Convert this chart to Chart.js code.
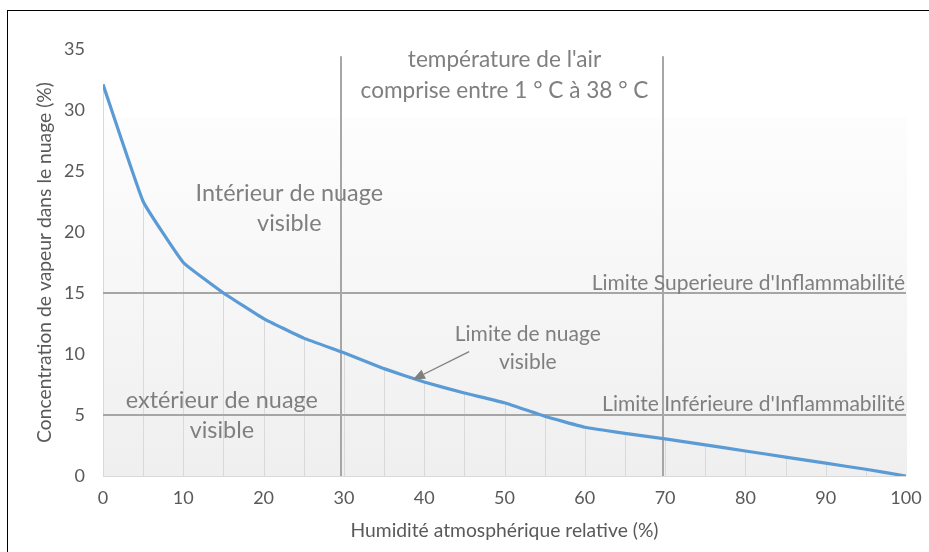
<!DOCTYPE html>
<html>
<head>
<meta charset="utf-8">
<script src="https://cdn.jsdelivr.net/npm/chart.js@4/dist/chart.umd.min.js"></script>
<style>
  html, body { margin: 0; padding: 0; background: #fff; }
  #wrap { position: relative; width: 929px; height: 552px; overflow: hidden; }
  #frame { position: absolute; left: 7px; top: 10px; width: 940px; height: 560px; border-top: 1px solid #000; border-left: 1px solid #000; pointer-events: none; }
  canvas { position: absolute; left: 0; top: 0; }
</style>
</head>
<body>
<div id="wrap">
  <canvas id="c" width="929" height="552"></canvas>
  <div id="frame"></div>
</div>
<script>
// Data
const humidity = [0, 5, 10, 15, 20, 25, 30, 35, 40, 45, 50, 55, 60, 65, 70, 75, 80, 85, 90, 95, 100];
const concentration = [32.1, 22.5, 17.5, 15.0, 12.9, 11.3, 10.1, 8.8, 7.7, 6.8, 6.0, 4.9, 4.0, 3.5, 3.05, 2.55, 2.05, 1.55, 1.05, 0.55, 0];
const xTicks = [0, 10, 20, 30, 40, 50, 60, 70, 80, 90, 100];
const yTicks = [0, 5, 10, 15, 20, 25, 30, 35];
const flammabilityLimits = [15, 5];          // horizontal reference lines
const temperatureBounds = [29.6, 69.8];       // vertical reference lines
const temperatureTop = 34.4;
const labels = [
  { lines: ["température de l'air", "comprise entre 1 ° C à 38 ° C"], x: 50, y: [34.1, 31.6], size: 22.6, align: 'center' },
  { lines: ["Intérieur de nuage", "visible"], x: 23.2, y: [23.2, 20.7], size: 23.4, align: 'center' },
  { lines: ["extérieur de nuage", "visible"], x: 14.8, y: [6.2, 3.75], size: 23.4, align: 'center' },
  { lines: ["Limite de nuage", "visible"], x: 52.9, y: [11.6, 9.3], size: 21, align: 'center' },
  { lines: ["Limite Superieure d'Inflammabilité"], x: 99.9, y: [15.8], size: 21, align: 'right' },
  { lines: ["Limite Inférieure d'Inflammabilité"], x: 99.9, y: [5.9], size: 21, align: 'right' }
];
const arrow = { from: [45.6, 10.2], to: [38.6, 7.9] };

const FONT = 'Lato, "Open Sans", sans-serif';

const decor = {
  id: 'decor',
  beforeDatasetsDraw(chart) {
    const { ctx, chartArea: a, scales: { x, y } } = chart;
    ctx.save();
    const top = 117;
    const g = ctx.createLinearGradient(0, top, 0, a.bottom);
    g.addColorStop(0, '#fdfdfd');
    g.addColorStop(1, '#efefef');
    ctx.fillStyle = g;
    ctx.fillRect(a.left, top, a.right - a.left + 1, a.bottom - top);
    ctx.strokeStyle = '#d9d9d9';
    ctx.lineWidth = 1;
    humidity.forEach((h, i) => {
      const px = Math.round(x.getPixelForValue(h)) + 0.5;
      ctx.beginPath();
      ctx.moveTo(px, y.getPixelForValue(concentration[i]));
      ctx.lineTo(px, y.getPixelForValue(0));
      ctx.stroke();
    });
    ctx.beginPath();
    ctx.moveTo(a.left, Math.round(y.getPixelForValue(0)) + 0.5);
    ctx.lineTo(a.right, Math.round(y.getPixelForValue(0)) + 0.5);
    ctx.stroke();
    ctx.strokeStyle = '#a6a6a6';
    ctx.lineWidth = 2;
    flammabilityLimits.forEach(v => {
      const py = Math.round(y.getPixelForValue(v));
      ctx.beginPath();
      ctx.moveTo(x.getPixelForValue(0), py);
      ctx.lineTo(x.getPixelForValue(100), py);
      ctx.stroke();
    });
    temperatureBounds.forEach(v => {
      const px = Math.round(x.getPixelForValue(v));
      ctx.beginPath();
      ctx.moveTo(px, y.getPixelForValue(temperatureTop));
      ctx.lineTo(px, y.getPixelForValue(0));
      ctx.stroke();
    });
    ctx.restore();
  },
  afterDatasetsDraw(chart) {
    const { ctx, scales: { x, y } } = chart;
    ctx.save();
    ctx.fillStyle = '#7f7f7f';
    ctx.textBaseline = 'middle';
    labels.forEach(l => {
      ctx.font = l.size + 'px ' + FONT;
      ctx.textAlign = l.align;
      l.lines.forEach((t, i) => ctx.fillText(t, x.getPixelForValue(l.x), y.getPixelForValue(l.y[i])));
    });
    const x1 = x.getPixelForValue(arrow.from[0]), y1 = y.getPixelForValue(arrow.from[1]);
    const x2 = x.getPixelForValue(arrow.to[0]), y2 = y.getPixelForValue(arrow.to[1]);
    ctx.strokeStyle = '#7f7f7f';
    ctx.fillStyle = '#7f7f7f';
    ctx.lineWidth = 1.3;
    const ang = Math.atan2(y2 - y1, x2 - x1);
    const hl = 12, hw = 5;
    const bx = x2 - hl * Math.cos(ang), by = y2 - hl * Math.sin(ang);
    ctx.beginPath();
    ctx.moveTo(x1, y1);
    ctx.lineTo(bx, by);
    ctx.stroke();
    ctx.beginPath();
    ctx.moveTo(x2, y2);
    ctx.lineTo(bx + hw * Math.sin(ang), by - hw * Math.cos(ang));
    ctx.lineTo(bx - hw * Math.sin(ang), by + hw * Math.cos(ang));
    ctx.closePath();
    ctx.fill();
    ctx.restore();
  }
};

new Chart(document.getElementById('c'), {
  type: 'line',
  data: {
    datasets: [{
      data: humidity.map((h, i) => ({ x: h, y: concentration[i] })),
      borderColor: '#5b9bd5',
      borderWidth: 3.2,
      pointRadius: 0,
      tension: 0.1,
      fill: false
    }]
  },
  options: {
    responsive: false,
    animation: false,
    devicePixelRatio: 1,
    layout: { padding: { left: 0, top: 49, right: 23, bottom: 0 } },
    plugins: { legend: { display: false }, tooltip: { enabled: false } },
    scales: {
      x: {
        type: 'linear', min: 0, max: 100,
        afterBuildTicks(s) { s.ticks = xTicks.map(v => ({ value: v })); },
        afterFit(s) { s.height = 76; s.paddingRight = 0; },
        grid: { display: false, drawTicks: false },
        border: { display: false },
        ticks: { color: '#595959', font: { family: FONT, size: 18 }, padding: 11, maxRotation: 0 },
        title: { display: true, text: 'Humidité atmosphérique relative (%)', color: '#595959', font: { family: FONT, size: 19.3 }, padding: { top: 0, bottom: 10 } }
      },
      y: {
        type: 'linear', min: 0, max: 35,
        afterBuildTicks(s) { s.ticks = yTicks.map(v => ({ value: v })); },
        afterFit(s) { s.width = 103; },
        grid: { display: false, drawTicks: false },
        border: { display: false },
        ticks: { color: '#595959', font: { family: FONT, size: 18 }, padding: 18 },
        title: { display: true, text: 'Concentration de vapeur dans le nuage (%)', color: '#595959', font: { family: FONT, size: 19.3 }, padding: { top: 33, bottom: 0 } }
      }
    }
  },
  plugins: [decor]
});
</script>
</body>
</html>
